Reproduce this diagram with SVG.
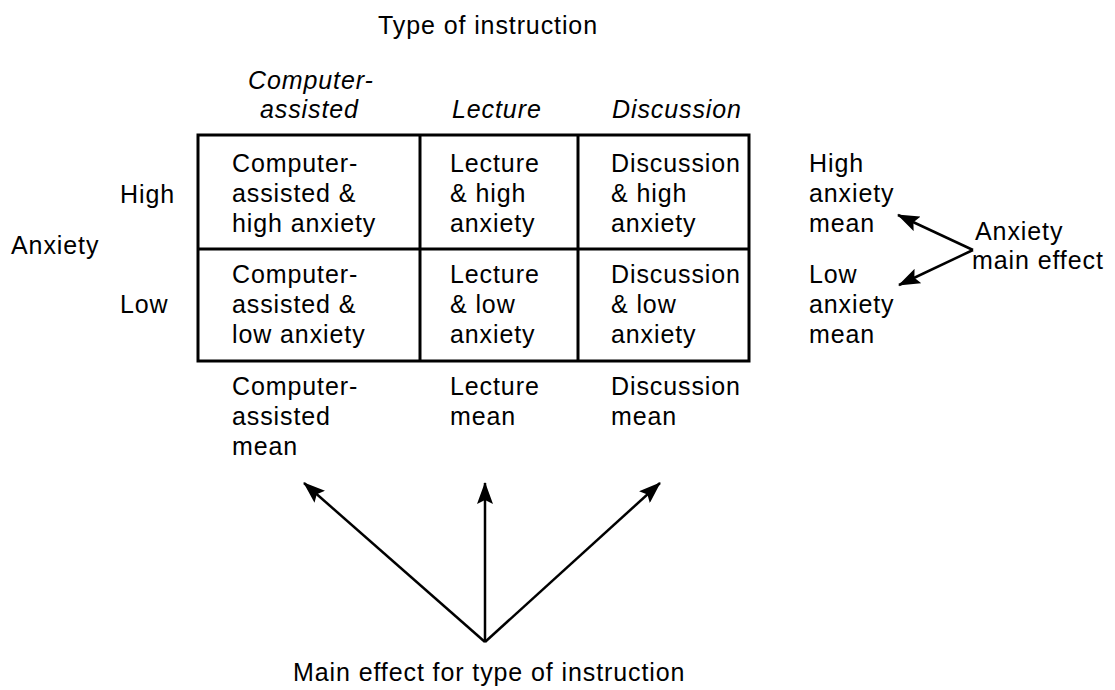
<svg xmlns="http://www.w3.org/2000/svg" width="1115" height="690" viewBox="0 0 1115 690">
<defs>
<style>
text{font-family:"Liberation Sans",Arial,sans-serif;font-size:25px;letter-spacing:0.9px;fill:#000}
.it{font-style:italic}
.grid{fill:none;stroke:#000;stroke-width:3}
.arr{fill:none;stroke:#000;stroke-width:2.5}
</style>
<marker id="ah" viewBox="0 0 22 16" refX="21" refY="8" markerWidth="22" markerHeight="16" markerUnits="userSpaceOnUse" orient="auto">
<path d="M0,0 L22,8 L0,16 L4,8 Z" fill="#000"/>
</marker>
</defs>
<rect width="1115" height="690" fill="#fff"/>
<g id="title"><text x="378" y="34">Type of instruction</text></g>
<g id="col-headers">
<text class="it" x="248" y="89">Computer-</text>
<text class="it" x="260" y="118">assisted</text>
<text class="it" x="452" y="118">Lecture</text>
<text class="it" x="612" y="118">Discussion</text>
</g>
<g id="row-headers">
<text x="120" y="203">High</text>
<text x="11" y="254">Anxiety</text>
<text x="120" y="313">Low</text>
</g>
<g id="table">
<rect class="grid" x="198" y="135" width="551" height="226"/>
<line class="grid" x1="420" y1="135" x2="420" y2="361"/>
<line class="grid" x1="578" y1="135" x2="578" y2="361"/>
<line class="grid" x1="198" y1="249" x2="749" y2="249"/>
</g>
<g id="cell-ca-high"><text x="232" y="172">Computer-</text><text x="232" y="202">assisted &amp;</text><text x="232" y="232">high anxiety</text></g>
<g id="cell-lec-high"><text x="450" y="172">Lecture</text><text x="450" y="202">&amp; high</text><text x="450" y="232">anxiety</text></g>
<g id="cell-dis-high"><text x="611" y="172">Discussion</text><text x="611" y="202">&amp; high</text><text x="611" y="232">anxiety</text></g>
<g id="cell-ca-low"><text x="232" y="283">Computer-</text><text x="232" y="313">assisted &amp;</text><text x="232" y="343">low anxiety</text></g>
<g id="cell-lec-low"><text x="450" y="283">Lecture</text><text x="450" y="313">&amp; low</text><text x="450" y="343">anxiety</text></g>
<g id="cell-dis-low"><text x="611" y="283">Discussion</text><text x="611" y="313">&amp; low</text><text x="611" y="343">anxiety</text></g>
<g id="mean-ca"><text x="232" y="395">Computer-</text><text x="232" y="425">assisted</text><text x="232" y="455">mean</text></g>
<g id="mean-lec"><text x="450" y="395">Lecture</text><text x="450" y="425">mean</text></g>
<g id="mean-dis"><text x="611" y="395">Discussion</text><text x="611" y="425">mean</text></g>
<g id="mean-high"><text x="809" y="172">High</text><text x="809" y="202">anxiety</text><text x="809" y="232">mean</text></g>
<g id="mean-low"><text x="809" y="283">Low</text><text x="809" y="313">anxiety</text><text x="809" y="343">mean</text></g>
<g id="anxiety-effect"><text x="975" y="240">Anxiety</text><text x="972" y="269">main effect</text></g>
<g id="instruction-effect"><text x="293" y="681">Main effect for type of instruction</text></g>
<g id="connectors">
<line class="arr" x1="973" y1="250" x2="898" y2="215" marker-end="url(#ah)"/>
<line class="arr" x1="973" y1="250" x2="899" y2="285" marker-end="url(#ah)"/>
<line class="arr" x1="485" y1="642" x2="304" y2="483" marker-end="url(#ah)"/>
<line class="arr" x1="485" y1="642" x2="485" y2="483" marker-end="url(#ah)"/>
<line class="arr" x1="485" y1="642" x2="660" y2="483" marker-end="url(#ah)"/>
</g>
</svg>
